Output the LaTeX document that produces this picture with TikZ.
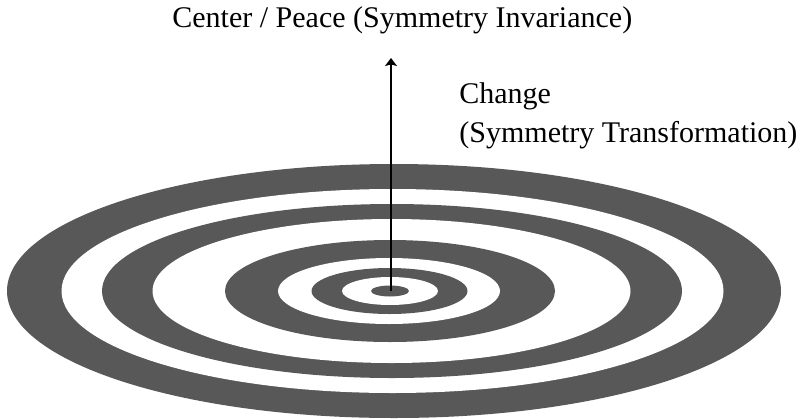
\documentclass[tikz,border=0pt]{standalone}
\usepackage{fontspec}
\setmainfont{Liberation Serif}
\usetikzlibrary{arrows.meta}
\definecolor{ringgray}{RGB}{88,88,88}

\begin{document}
\begin{tikzpicture}[x=0.5pt,y=-0.5pt,>={Stealth[length=4pt,width=6pt,inset=0.8pt]},
    every node/.style={font=\fontsize{15}{19.5}\selectfont,inner sep=0pt}]
  \useasboundingbox (0,0) rectangle (803,418);
  % target rings, outside in: cx / x radius / y radius / fill
  \foreach \cx/\rx/\ry/\col in {394/387/127/ringgray, 392.5/331/102/white,
      392/290/87/ringgray, 391.5/239/72/white, 390/165/51/ringgray,
      389/111/33/white, 389.5/78/23/ringgray, 390/48/14/white, 390/19/5.5/ringgray}
    \fill[\col] (\cx,291) ellipse [x radius=\rx, y radius=\ry];
  \coordinate (hub) at (391,291);
  \coordinate (apex) at (391,58);
  \draw[->,line width=1pt] (hub) -- (apex);
  \node[anchor=base west] (center) at (172,27) {Center / Peace (Symmetry Invariance)};
  % base of a two-line node is the last line
  \node[anchor=base west,align=left] (change) at (459,142) {Change\\(Symmetry Transformation)};
\end{tikzpicture}
\end{document}
